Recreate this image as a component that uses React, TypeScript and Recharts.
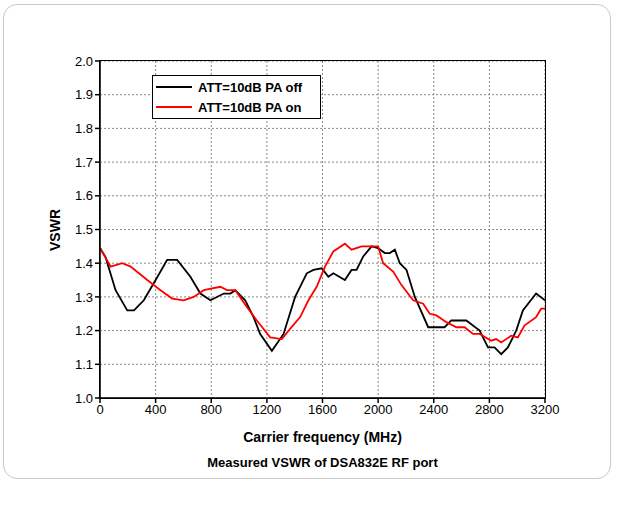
import React from 'react';
import { LineChart, Line, XAxis, YAxis, CartesianGrid } from 'recharts';

// PA off (black)
const offFreq = [0, 40, 112, 196, 244, 315, 400, 483, 555, 650, 722, 794, 890, 937, 973, 1044, 1104, 1152, 1236, 1320, 1403, 1487, 1535, 1594, 1642, 1678, 1761, 1809, 1845, 1893, 1953, 2000, 2048, 2084, 2120, 2156, 2204, 2264, 2360, 2478, 2526, 2634, 2730, 2790, 2837, 2885, 2933, 2993, 3041, 3136, 3200];
const offVswr = [1.445, 1.418, 1.32, 1.26, 1.26, 1.29, 1.35, 1.41, 1.41, 1.36, 1.31, 1.29, 1.31, 1.31, 1.32, 1.29, 1.24, 1.19, 1.14, 1.19, 1.3, 1.37, 1.38, 1.385, 1.36, 1.37, 1.35, 1.38, 1.38, 1.42, 1.45, 1.445, 1.43, 1.43, 1.44, 1.4, 1.38, 1.3, 1.21, 1.21, 1.23, 1.23, 1.2, 1.15, 1.15, 1.13, 1.15, 1.2, 1.26, 1.31, 1.29];
// PA on (red)
const onFreq = [0, 76, 160, 220, 340, 435, 519, 602, 674, 746, 865, 913, 973, 1056, 1128, 1224, 1307, 1367, 1439, 1499, 1558, 1618, 1678, 1761, 1809, 1881, 2000, 2036, 2108, 2168, 2252, 2324, 2371, 2419, 2491, 2563, 2622, 2682, 2730, 2813, 2849, 2885, 2957, 3005, 3052, 3136, 3172, 3200];
const onVswr = [1.445, 1.39, 1.4, 1.39, 1.35, 1.32, 1.295, 1.29, 1.3, 1.32, 1.33, 1.32, 1.32, 1.27, 1.23, 1.18, 1.175, 1.205, 1.24, 1.29, 1.33, 1.39, 1.435, 1.458, 1.44, 1.45, 1.45, 1.4, 1.375, 1.335, 1.29, 1.28, 1.25, 1.245, 1.225, 1.21, 1.21, 1.19, 1.19, 1.17, 1.175, 1.165, 1.185, 1.18, 1.215, 1.24, 1.265, 1.265];

const xTicks = [0, 400, 800, 1200, 1600, 2000, 2400, 2800, 3200];
const yTicks = [1.0, 1.1, 1.2, 1.3, 1.4, 1.5, 1.6, 1.7, 1.8, 1.9, 2.0];

const offData = offFreq.map((f, i) => ({ f, v: offVswr[i] }));
const onData = onFreq.map((f, i) => ({ f, v: onVswr[i] }));

const font = 'Liberation Sans, Arial, sans-serif';

export default function App() {
  return (
    <div style={{ position: 'absolute', left: 0, top: 0, width: 617, height: 510, background: '#fff', fontFamily: font }}>
      <div style={{ position: 'absolute', left: 3, top: 4, width: 606, height: 473, border: '1px solid #c8c8c8', borderRadius: 14 }} />
      <LineChart width={617} height={510} margin={{ top: 61, right: 72, bottom: 82, left: 60 }}>
        <CartesianGrid xAxisId="b" yAxisId="l" stroke="#888" strokeDasharray="2 2" />
        <XAxis xAxisId="b" type="number" dataKey="f" domain={[0, 3200]} ticks={xTicks} allowDataOverflow height={30}
          stroke="#000" strokeWidth={1.5} tick={{ fill: '#000', fontSize: 13, fontFamily: font }} tickSize={5} />
        <YAxis yAxisId="l" type="number" domain={[1, 2]} ticks={yTicks} allowDataOverflow width={40}
          stroke="#000" strokeWidth={1.5} tick={{ fill: '#000', fontSize: 13, fontFamily: font }} tickSize={5}
          tickFormatter={(v) => v.toFixed(1)} />
        <Line xAxisId="b" yAxisId="l" data={offData} dataKey="v" type="linear" stroke="#000" strokeWidth={1.8} dot={false} isAnimationActive={false} />
        <Line xAxisId="b" yAxisId="l" data={onData} dataKey="v" type="linear" stroke="#ff0000" strokeWidth={1.8} dot={false} isAnimationActive={false} />
      </LineChart>
      <div style={{ position: 'absolute', left: 99, top: 60, width: 445, height: 337, border: '1.5px solid #000', pointerEvents: 'none' }} />
      <div style={{ position: 'absolute', left: 152, top: 75, width: 167, height: 42, border: '1px solid #000', background: '#fff', fontSize: 13, fontWeight: 'bold' }}>
        <div style={{ display: 'flex', alignItems: 'center', height: 20, marginTop: 1 }}>
          <span style={{ display: 'inline-block', width: 36, height: 2, background: '#000', margin: '0 6px 0 3px' }} />ATT=10dB PA off
        </div>
        <div style={{ display: 'flex', alignItems: 'center', height: 20 }}>
          <span style={{ display: 'inline-block', width: 36, height: 2, background: '#f00', margin: '0 6px 0 3px' }} />ATT=10dB PA on
        </div>
      </div>
      <div style={{ position: 'absolute', left: 100, width: 445, top: 429, textAlign: 'center', fontSize: 14, fontWeight: 'bold' }}>Carrier frequency (MHz)</div>
      <div style={{ position: 'absolute', left: 100, width: 445, top: 455, textAlign: 'center', fontSize: 13, fontWeight: 'bold' }}>Measured VSWR of DSA832E RF port</div>
      <div style={{ position: 'absolute', left: 55, top: 230, transform: 'translate(-50%, -50%) rotate(-90deg)', fontSize: 14, fontWeight: 'bold' }}>VSWR</div>
    </div>
  );
}
